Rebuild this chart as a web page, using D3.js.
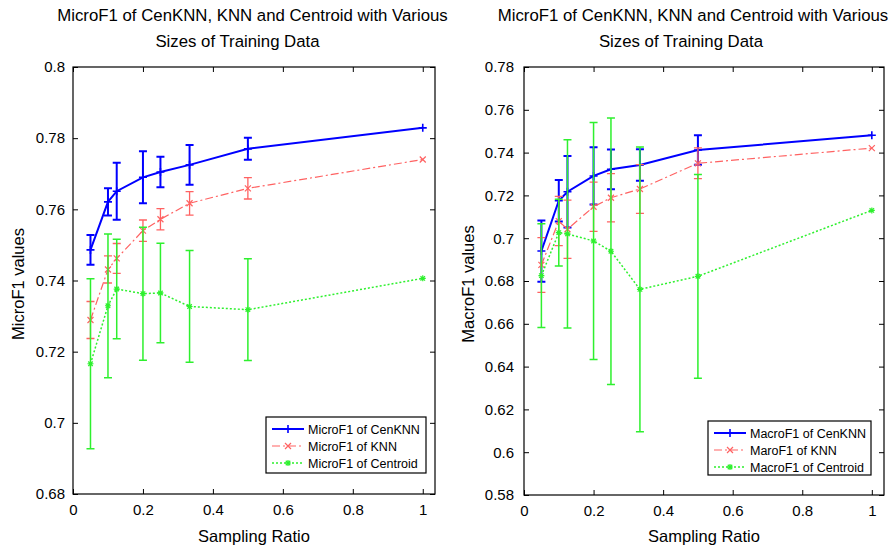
<!DOCTYPE html>
<html><head><meta charset="utf-8">
<script src="https://cdn.jsdelivr.net/npm/d3@7"></script>
<style>
body{margin:0;background:#fff}
svg{display:block}
text{font-family:Arial,"Liberation Sans",sans-serif;fill:#000}
</style>
</head><body>
<svg id="c" width="894" height="552"></svg>
<script>
// ---------- data ----------
const samplingRatio = [0.05, 0.1, 0.125, 0.2, 0.25, 0.3333, 0.5, 1];
const xTicks = [0, 0.2, 0.4, 0.6, 0.8, 1];

const microCenKNN      = [0.7486, 0.7621, 0.7651, 0.7690, 0.7705, 0.7725, 0.7770, 0.7829];
const microCenKNNErr   = [0.0042, 0.0038, 0.0080, 0.0073, 0.0043, 0.0056, 0.0031, 0];
const microKNN         = [0.7289, 0.7431, 0.7462, 0.7540, 0.7572, 0.7617, 0.7659, 0.7740];
const microKNNErr      = [0.0052, 0.0038, 0.0042, 0.0030, 0.0030, 0.0033, 0.0030, 0];
const microCentroid    = [0.7166, 0.7329, 0.7376, 0.7363, 0.7365, 0.7327, 0.7318, 0.7406];
const microCentroidErr = [0.0239, 0.0202, 0.0140, 0.0187, 0.0140, 0.0157, 0.0143, 0];
const microYTicks = [0.68, 0.70, 0.72, 0.74, 0.76, 0.78, 0.80];

const macroCenKNN      = [0.6940, 0.7175, 0.7217, 0.7291, 0.7322, 0.7342, 0.7412, 0.7481];
const macroCenKNNErr   = [0.0143, 0.0097, 0.0167, 0.0134, 0.0093, 0.0074, 0.0069, 0];
const macroKNN         = [0.6875, 0.7080, 0.7042, 0.7147, 0.7189, 0.7230, 0.7350, 0.7421];
const macroKNNErr      = [0.0128, 0.0115, 0.0136, 0.0115, 0.0113, 0.0114, 0.0072, 0];
const macroCentroid    = [0.6825, 0.7026, 0.7020, 0.6987, 0.6939, 0.6761, 0.6822, 0.7130];
const macroCentroidErr = [0.0242, 0.0156, 0.0440, 0.0554, 0.0623, 0.0665, 0.0476, 0];
const macroYTicks = [0.58, 0.60, 0.62, 0.64, 0.66, 0.68, 0.70, 0.72, 0.74, 0.76, 0.78];

const titleLine1 = "MicroF1 of CenKNN, KNN and Centroid with Various";
const titleLine2 = "Sizes of Training Data";
const microLegend = ["MicroF1 of CenKNN", "MicroF1 of KNN", "MicroF1 of Centroid"];
const macroLegend = ["MacroF1 of CenKNN", "MaroF1 of KNN", "MacroF1 of Centroid"];

// ---------- styles ----------
const styles = [
  {color:"#0000ff", width:2,   dash:null,          marker:"plus", ebw:2},
  {color:"#ff6262", width:1.2, dash:"8,3,2,3",     marker:"x",    ebw:1.3},
  {color:"#2ef02e", width:1.5, dash:"2,2",         marker:"star", ebw:1.5}
];

const svg = d3.select("#c");
const fmt = d => String(+d.toFixed(2));

function marker(g, type, x, y, color, s) {
  let p = "";
  if (type === "plus") p = `M${x-s},${y}H${x+s}M${x},${y-s}V${y+s}`;
  else if (type === "x") p = `M${x-s},${y-s}L${x+s},${y+s}M${x-s},${y+s}L${x+s},${y-s}`;
  else p = `M${x-s},${y}H${x+s}M${x},${y-s}V${y+s}M${x-s*0.75},${y-s*0.75}L${x+s*0.75},${y+s*0.75}M${x-s*0.75},${y+s*0.75}L${x+s*0.75},${y-s*0.75}`;
  g.append("path").attr("d", p).attr("stroke", color).attr("stroke-width", type==="plus"?1.6:1.2).attr("fill","none");
}

function panel(cfg) {
  const x = d3.scaleLinear().domain([0, 1.035]).range([cfg.x0, cfg.x1]);
  const y = d3.scaleLinear().domain(cfg.yDom).range([cfg.y1, cfg.y0]);
  const g = svg.append("g");

  // titles
  g.append("text").attr("x", cfg.t1x).attr("y", 20.5).attr("text-anchor","middle")
    .style("font-size","16.8px").text(titleLine1);
  g.append("text").attr("x", cfg.t2x).attr("y", 46.5).attr("text-anchor","middle")
    .style("font-size","16.8px").text(titleLine2);

  // axes
  const ax = (gen, tr, lab) => {
    const a = g.append("g").attr("transform", tr).call(gen);
    a.select(".domain").remove();
    a.selectAll(".tick line").attr("stroke","#000").attr("stroke-width",1);
    a.selectAll("text").style("font-size","15px").attr("fill","#000");
    if (!lab) a.selectAll("text").remove();
    return a;
  };
  ax(d3.axisBottom(x).tickValues(xTicks).tickSize(-5).tickPadding(10).tickFormat(fmt),
     `translate(0,${cfg.y1})`, true);
  ax(d3.axisTop(x).tickValues(xTicks).tickSize(-5), `translate(0,${cfg.y0})`, false);
  ax(d3.axisLeft(y).tickValues(cfg.yTicks).tickSize(-5).tickPadding(cfg.ypad).tickFormat(fmt),
     `translate(${cfg.x0},0)`, true);
  ax(d3.axisRight(y).tickValues(cfg.yTicks).tickSize(-5), `translate(${cfg.x1},0)`, false);

  g.append("rect").attr("x", cfg.x0).attr("y", cfg.y0)
    .attr("width", cfg.x1-cfg.x0).attr("height", cfg.y1-cfg.y0)
    .attr("fill","none").attr("stroke","#000").attr("stroke-width",1.2);

  // axis labels
  g.append("text").attr("x", (cfg.x0+cfg.x1)/2 + 0).attr("y", 542)
    .attr("text-anchor","middle").style("font-size","16.5px").text("Sampling Ratio");
  g.append("text").attr("transform", `translate(${cfg.ylx},${cfg.yly}) rotate(-90)`)
    .attr("text-anchor","middle").style("font-size","16.5px").text(cfg.ylabel);

  // series
  cfg.series.forEach((s, i) => {
    const st = styles[i];
    const sg = g.append("g");
    const pts = samplingRatio.map((r, k) => [x(r), y(s.v[k])]);
    // error bars
    samplingRatio.forEach((r, k) => {
      if (!s.e[k]) return;
      const cx = x(r), yt = y(s.v[k]+s.e[k]), yb = y(s.v[k]-s.e[k]), w = 4;
      sg.append("path")
        .attr("d", `M${cx},${yt}V${yb}M${cx-w},${yt}H${cx+w}M${cx-w},${yb}H${cx+w}`)
        .attr("stroke", st.color).attr("stroke-width", st.ebw).attr("fill","none");
    });
    sg.append("path").attr("d", d3.line()(pts)).attr("fill","none")
      .attr("stroke", st.color).attr("stroke-width", st.width)
      .attr("stroke-dasharray", st.dash);
    pts.forEach(p => marker(sg, st.marker, p[0], p[1], st.color, st.marker==="plus"?4:3));
  });

  // legend
  const L = cfg.leg;
  const lg = g.append("g");
  lg.append("rect").attr("x", L.x).attr("y", L.y).attr("width", L.w).attr("height", L.h)
    .attr("fill","#fff").attr("stroke","#000").attr("stroke-width",1.2);
  cfg.legendText.forEach((t, i) => {
    const st = styles[i];
    const yy = L.y + 12 + i*17;
    lg.append("path").attr("d", `M${L.x+6},${yy}H${L.x+38}`).attr("stroke", st.color)
      .attr("stroke-width", st.width).attr("stroke-dasharray", st.dash).attr("fill","none");
    marker(lg, st.marker, L.x+22, yy, st.color, st.marker==="plus"?4:3);
    lg.append("text").attr("x", L.x+42).attr("y", yy).attr("dy","0.36em")
      .style("font-size","12.5px").text(t);
  });
}

panel({
  x0:73, x1:435, y0:67, y1:494, yDom:[0.68,0.80], yTicks:microYTicks, ypad:8,
  t1x:252.5, t2x:237.5, ylabel:"MicroF1 values", ylx:24, yly:284,
  series:[{v:microCenKNN,e:microCenKNNErr},{v:microKNN,e:microKNNErr},{v:microCentroid,e:microCentroidErr}],
  legendText:microLegend, leg:{x:266, y:417, w:160, h:56}
});
panel({
  x0:524, x1:884, y0:67, y1:495, yDom:[0.58,0.78], yTicks:macroYTicks, ypad:10,
  t1x:693, t2x:681, ylabel:"MacroF1 values", ylx:474, yly:284,
  series:[{v:macroCenKNN,e:macroCenKNNErr},{v:macroKNN,e:macroKNNErr},{v:macroCentroid,e:macroCentroidErr}],
  legendText:macroLegend, leg:{x:708, y:421, w:163, h:54}
});
</script>
</body></html>
